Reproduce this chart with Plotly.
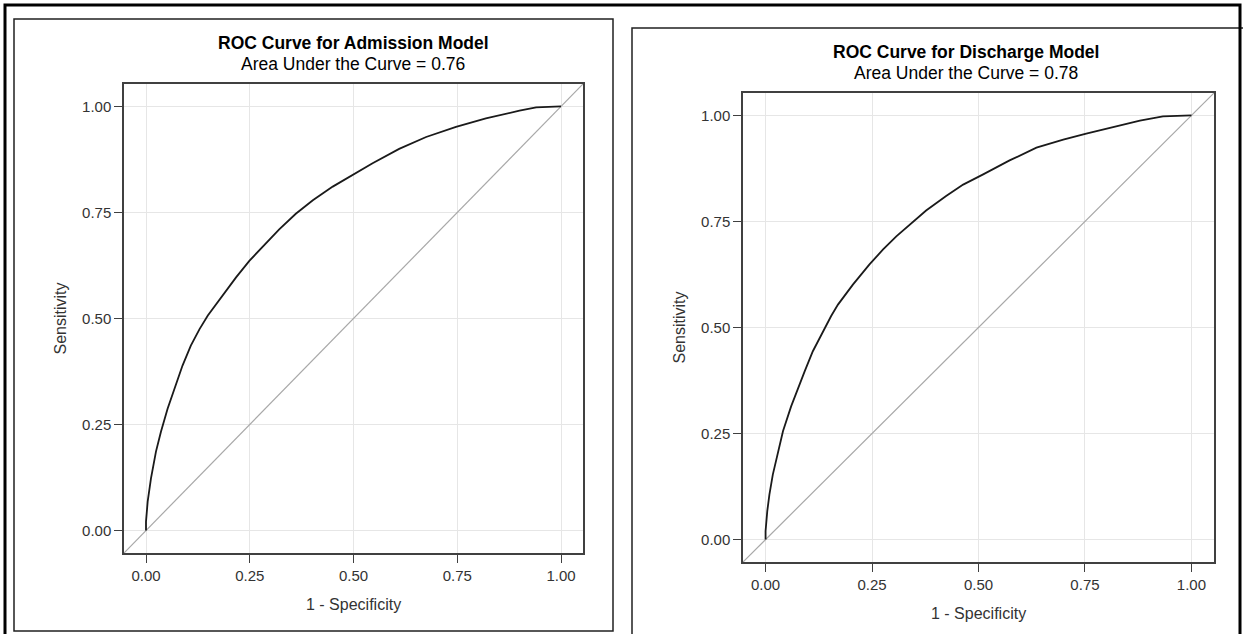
import plotly.graph_objects as go

# ---- data ----
adm_fpr = [0.0, 0.0, 0.004, 0.012, 0.024, 0.036, 0.052, 0.072, 0.088, 0.108, 0.129, 0.149,
           0.169, 0.193, 0.217, 0.249, 0.289, 0.321, 0.361, 0.402, 0.450, 0.498, 0.546,
           0.610, 0.675, 0.747, 0.819, 0.900, 0.940, 1.0]
adm_tpr = [0.0, 0.021, 0.068, 0.123, 0.186, 0.233, 0.287, 0.342, 0.389, 0.436, 0.475, 0.507,
           0.534, 0.565, 0.597, 0.636, 0.677, 0.710, 0.747, 0.779, 0.811, 0.839, 0.866,
           0.900, 0.928, 0.952, 0.972, 0.990, 0.998, 1.0]

dis_fpr = [0.0, 0.0, 0.004, 0.009, 0.017, 0.029, 0.041, 0.060, 0.076, 0.092, 0.111, 0.135,
           0.154, 0.170, 0.205, 0.244, 0.276, 0.307, 0.338, 0.377, 0.424, 0.464, 0.511,
           0.573, 0.636, 0.699, 0.753, 0.816, 0.879, 0.933, 1.0]
dis_tpr = [0.0, 0.020, 0.067, 0.106, 0.153, 0.208, 0.256, 0.314, 0.358, 0.397, 0.444, 0.491,
           0.527, 0.554, 0.601, 0.649, 0.684, 0.715, 0.743, 0.776, 0.810, 0.837, 0.861,
           0.894, 0.924, 0.943, 0.957, 0.972, 0.988, 0.998, 1.0]

titles = ["ROC Curve for Admission Model", "ROC Curve for Discharge Model"]
subtitles = ["Area Under the Curve = 0.76", "Area Under the Curve = 0.78"]
tick_vals = [0.0, 0.25, 0.50, 0.75, 1.00]
tick_text = ["0.00", "0.25", "0.50", "0.75", "1.00"]
x_label = "1 - Specificity"
y_label = "Sensitivity"

# ---- layout geometry (pixels) ----
W, H = 1243, 634
AX_RANGE = [-0.053, 1.053]
FONT = "Arial, Liberation Sans, Helvetica, sans-serif"


def px(x):
    return x / W


def py(y):
    return 1 - y / H


panels = [
    dict(plot=(124, 84, 583, 553), box=(14, 19, 613, 631), title_cx=353),
    dict(plot=(743, 93, 1214, 562), box=(632, 28, 1250, 650), title_cx=966),
]

fig = go.Figure()
series = [(adm_fpr, adm_tpr), (dis_fpr, dis_tpr)]

annotations = []
shapes = []
for i, (p, (fx, ty)) in enumerate(zip(panels, series)):
    sfx = "" if i == 0 else str(i + 1)
    xa, ya = "x" + sfx, "y" + sfx
    l, t, r, b = p["plot"]
    # diagonal reference line
    fig.add_trace(go.Scatter(x=AX_RANGE, y=AX_RANGE, mode="lines",
                             line=dict(color="#a8a8a8", width=1.2),
                             xaxis=xa, yaxis=ya, showlegend=False, hoverinfo="skip"))
    fig.add_trace(go.Scatter(x=fx, y=ty, mode="lines",
                             line=dict(color="#1a1a1a", width=1.8),
                             xaxis=xa, yaxis=ya, showlegend=False))
    axis_common = dict(range=AX_RANGE, tickvals=tick_vals, ticktext=tick_text,
                       showgrid=True, gridcolor="#e6e6e6", gridwidth=1,
                       zeroline=False, showline=True, linecolor="#404040", linewidth=1.5,
                       mirror=True, ticks="outside", ticklen=8, tickwidth=1.3,
                       tickcolor="#404040",
                       tickfont=dict(family=FONT, size=15, color="#333333"))
    fig.update_layout(**{
        "xaxis" + sfx: dict(domain=[px(l), px(r)], anchor=ya, **axis_common),
        "yaxis" + sfx: dict(domain=[py(b), py(t)], anchor=xa, **axis_common),
    })
    cx = (l + r) / 2
    tcx = p["title_cx"]
    annotations += [
        dict(text="<b>" + titles[i] + "</b>", x=px(tcx), y=py(t - 41), xref="paper", yref="paper",
             showarrow=False, font=dict(family=FONT, size=17.5, color="#000000"),
             xanchor="center", yanchor="middle"),
        dict(text=subtitles[i], x=px(tcx), y=py(t - 20), xref="paper", yref="paper",
             showarrow=False, font=dict(family=FONT, size=17.5, color="#000000"),
             xanchor="center", yanchor="middle"),
        dict(text=x_label, x=px(cx), y=py(b + 51), xref="paper", yref="paper",
             showarrow=False, font=dict(family=FONT, size=16, color="#333333"),
             xanchor="center", yanchor="middle"),
        dict(text=y_label, x=px(l - 64), y=py((t + b) / 2), xref="paper", yref="paper",
             showarrow=False, textangle=-90, font=dict(family=FONT, size=16, color="#333333"),
             xanchor="center", yanchor="middle"),
    ]
    bl, bt, br, bb = p["box"]
    shapes.append(dict(type="rect", xref="paper", yref="paper",
                       x0=px(bl), x1=px(br), y0=py(bb), y1=py(bt),
                       line=dict(color="#202020", width=1.5), layer="below"))

# outer frame
shapes.append(dict(type="rect", xref="paper", yref="paper",
                   x0=px(5), x1=px(1240), y0=py(640), y1=py(5),
                   line=dict(color="#000000", width=3), layer="below"))

fig.update_layout(width=W, height=H, margin=dict(l=0, r=0, t=0, b=0),
                  paper_bgcolor="white", plot_bgcolor="white",
                  annotations=annotations, shapes=shapes, showlegend=False)

fig.write_html("out.html", config={"displayModeBar": False},
               post_script="document.body.style.margin='0px';document.body.style.overflow='hidden';")
